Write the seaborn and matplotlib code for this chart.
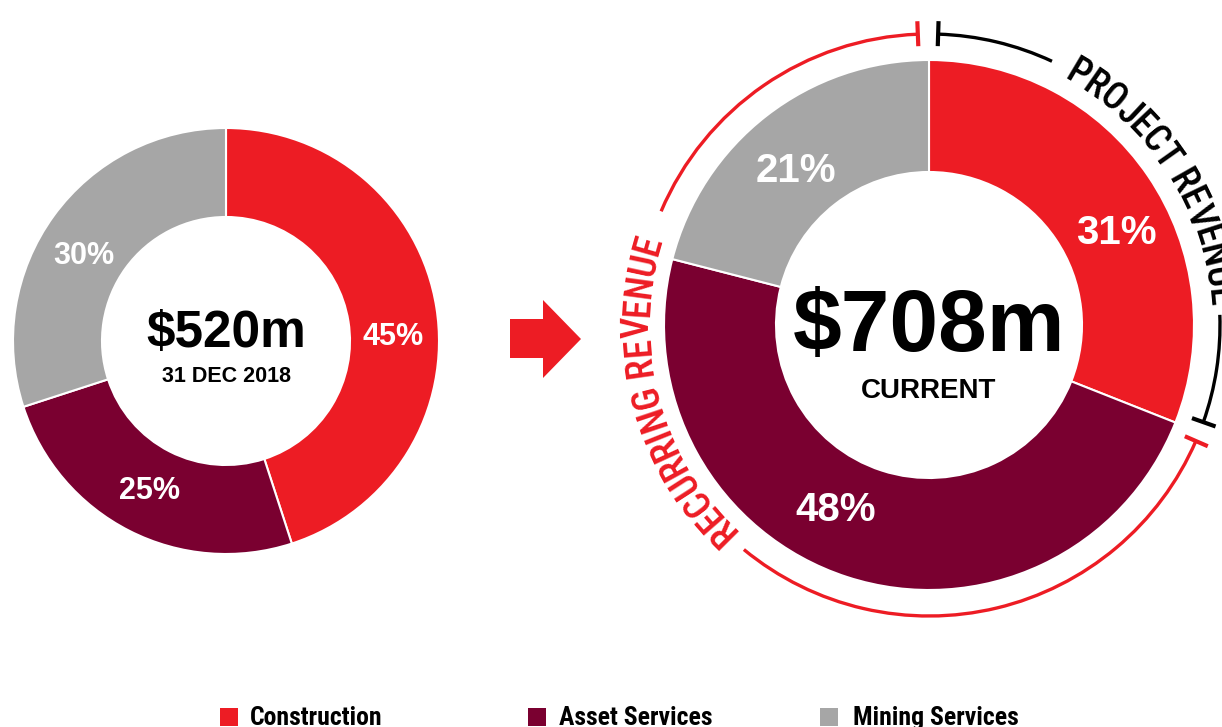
import numpy as np
import matplotlib
matplotlib.use("Agg")
import matplotlib.pyplot as plt
import seaborn as sns
from matplotlib import font_manager
from matplotlib.patches import Arc, Polygon, Rectangle
from matplotlib.lines import Line2D
from matplotlib.font_manager import FontProperties, findfont, get_font

# ---------------- data ----------------
categories = ["Construction", "Asset Services", "Mining Services"]
dec2018_share = [45, 25, 30]
current_share = [31, 48, 21]
dec2018_total = "$520m"
dec2018_label = "31 DEC 2018"
current_total = "$708m"
current_label = "CURRENT"
recurring_label = "RECURRING REVENUE"
project_label = "PROJECT REVENUE"
colors = ["#ED1C24", "#7A0030", "#A6A6A6"]

W, H = 1222, 727
sns.set_theme(style="white")
plt.rcParams["font.family"] = ["Liberation Sans", "DejaVu Sans"]

avail = {f.name for f in font_manager.fontManager.ttflist}
narrow = next((n for n in ["Liberation Sans Narrow", "Arial Narrow",
                           "Roboto Condensed", "Open Sans Condensed",
                           "DejaVu Sans Condensed"] if n in avail), None)
narrow_family = [narrow, "Liberation Sans", "DejaVu Sans"] if narrow else \
    ["Liberation Sans", "DejaVu Sans"]

fig = plt.figure(figsize=(W / 100, H / 100), dpi=100)
ax = fig.add_axes([0, 0, 1, 1])


def Y(y):
    return H - y


def donut(values, center, R, r, fs, offsets, rshift):
    wedges, _, autotexts = ax.pie(
        values, colors=colors, startangle=90, counterclock=False,
        radius=R, center=center,
        wedgeprops=dict(width=R - r, edgecolor="white", linewidth=1.5),
        autopct=lambda p: f"{p:.0f}%", pctdistance=(R + r) / 2 / R,
        textprops=dict(color="white", fontsize=fs, fontweight="bold"))
    for w, t, off, dr in zip(wedges, autotexts, offsets, rshift):
        rm = (R + r) / 2 + dr
        a = np.deg2rad((w.theta1 + w.theta2) / 2 + off)
        t.set_position((center[0] + rm * np.cos(a), center[1] + rm * np.sin(a)))


# ---------------- left donut ----------------
lc = (226, Y(341))
donut(dec2018_share, lc, 213, 124, 22, [-7.6, 0, 5], [-1, 0, -3])
ax.text(lc[0], Y(347), dec2018_total, ha="center", va="baseline",
        fontsize=37, fontweight="bold", color="black")
ax.text(lc[0], Y(382), dec2018_label, ha="center", va="baseline",
        fontsize=15.5, fontweight="bold", color="black")

# ---------------- right donut ----------------
rc = (929, Y(325))
donut(current_share, rc, 265, 153, 29, [-8, -8.7, 3], [0, -2, -5])
ax.text(rc[0], Y(351), current_total, ha="center", va="baseline",
        fontsize=63, fontweight="bold", color="black")
ax.text(rc[0], Y(398), current_label, ha="center", va="baseline",
        fontsize=20, fontweight="bold", color="black")

# ---------------- arrow ----------------
arrow_pts = [(510, 319), (543, 319), (543, 300), (581, 339),
             (543, 378), (543, 358), (510, 358)]
ax.add_patch(Polygon([(x, Y(y)) for x, y in arrow_pts], closed=True,
                     facecolor=colors[0], edgecolor="none"))

# ---------------- brackets ----------------
arc_r = 291
red, black = colors[0], "black"
for t1, t2 in [(92.2, 157), (230.5, 336.5)]:
    ax.add_patch(Arc(rc, 2 * arc_r, 2 * arc_r, theta1=t1, theta2=t2,
                     color=red, lw=2.4))
for t1, t2 in [(65, 88.2), (-19.5, 2.0)]:
    ax.add_patch(Arc(rc, 2 * arc_r, 2 * arc_r, theta1=t1, theta2=t2,
                     color=black, lw=2.4))


def tick(angle, color):
    a = np.deg2rad(angle)
    r0, r1 = arc_r - 12, arc_r + 13
    ax.add_line(Line2D([rc[0] + r0 * np.cos(a), rc[0] + r1 * np.cos(a)],
                       [rc[1] + r0 * np.sin(a), rc[1] + r1 * np.sin(a)],
                       color=color, lw=3, solid_capstyle="butt"))


tick(92.2, red)
tick(-23.5, red)
tick(88.2, black)
tick(-19.5, black)


def curved_text(text, center, r, mid_deg, span_px, max_fs, weight, color):
    renderer = fig.canvas.get_renderer()

    def layout(fs):
        fp = FontProperties(family=narrow_family, size=fs, weight=weight)
        font = get_font(findfont(fp))
        font.set_size(fs, 100)
        raw = [font.load_char(ord(ch)).linearHoriAdvance / 65536 for ch in text]
        wfull, _, _ = renderer.get_text_width_height_descent(text, fp, ismath=False)
        k = wfull / sum(raw)
        return fp, [a * k for a in raw]

    fp, adv = layout(max_fs)
    fs = min(max_fs, max_fs * span_px / sum(adv))
    fp, adv = layout(fs)
    total = sum(adv)
    theta0 = np.deg2rad(mid_deg) + total / 2 / r
    pos = 0.0
    for ch, a in zip(text, adv):
        ang = theta0 - (pos + a / 2) / r
        pos += a
        ax.text(center[0] + r * np.cos(ang), center[1] + r * np.sin(ang), ch,
                rotation=np.rad2deg(ang) - 90, rotation_mode="anchor",
                ha="center", va="center", fontproperties=fp, color=color)


curved_text(recurring_label, rc, arc_r, 194.5, 335, 27, "medium", red)
curved_text(project_label, rc, arc_r, 32.5, 306, 27, "medium", black)

# ---------------- legend ----------------
leg_sq_x = [220, 528, 820]
leg_tx_x = [250, 559, 853]
leg_fs = 18.5 if narrow else 15.3
for c, name, sx, tx in zip(colors, categories, leg_sq_x, leg_tx_x):
    ax.add_patch(Rectangle((sx, Y(726)), 18, 18, facecolor=c, edgecolor="none"))
    ax.text(tx, Y(725), name, ha="left", va="baseline", fontsize=leg_fs,
            fontweight="bold", color="black", family=narrow_family)

ax.set_xlim(0, W)
ax.set_ylim(0, H)
ax.set_aspect("equal")
ax.axis("off")
fig.savefig("out.png", dpi=100, facecolor="white")
